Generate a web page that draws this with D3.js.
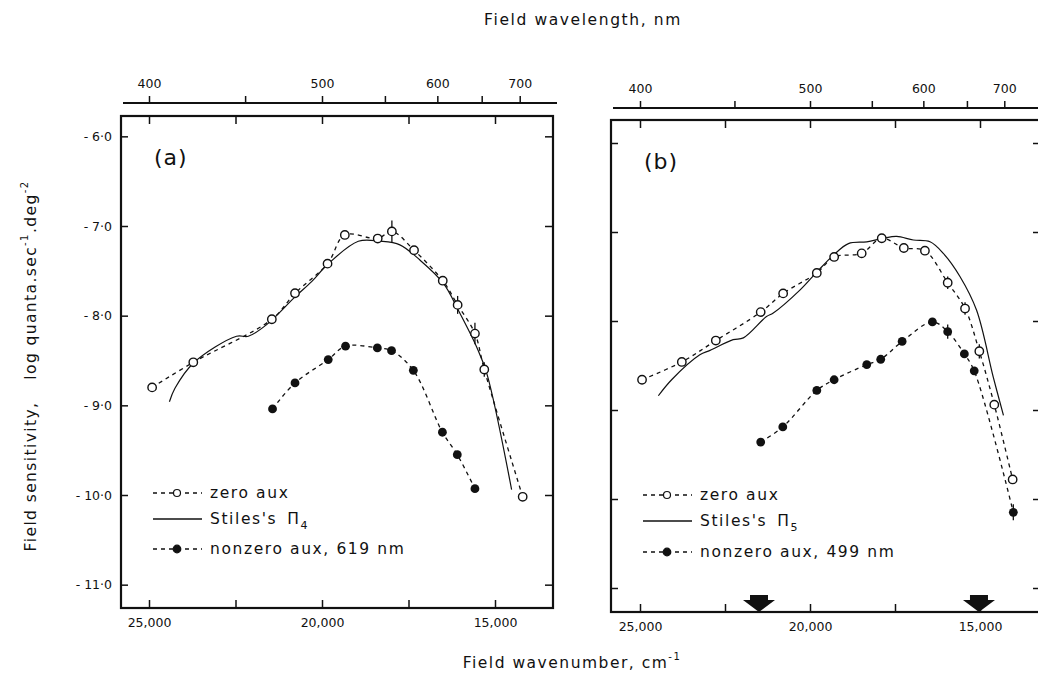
<!DOCTYPE html>
<html>
<head>
<meta charset="utf-8">
<script src="https://cdn.jsdelivr.net/npm/d3@7"></script>
<style>
  body { margin: 0; background: #fff; }
  text { font-family: "DejaVu Sans", sans-serif; fill: #111; }
</style>
</head>
<body>
<svg width="1038" height="675"></svg>
<script>
// ---- data (wavenumber in cm-1, log quanta.sec-1.deg-2) ----
// panel (a)
const zeroA_wn  = [24910, 23720, 21450, 20780, 19840, 19340, 18390, 17980, 17340, 16510, 16080, 15580, 15310, 14200];
const zeroA_val = [-8.80, -8.52, -8.04, -7.75, -7.42, -7.10, -7.14, -7.06, -7.27, -7.61, -7.88, -8.20, -8.60, -10.02];
const zeroA_err = [0, 0, 0, 0, 0, 0, 0, 0.12, 0, 0, 0.1, 0.12, 0.08, 0];

const auxA_wn  = [21430, 20780, 19820, 19320, 18400, 17990, 17360, 16520, 16090, 15580];
const auxA_val = [-9.04, -8.75, -8.49, -8.34, -8.36, -8.39, -8.61, -9.30, -9.55, -9.93];

const stilesA_wn  = [24410, 24250, 23720, 22470, 22130, 21600, 20780, 20300, 19840, 18950, 18320, 17750, 17170, 16490, 16060, 15530, 15240, 14520];
const stilesA_val = [-8.96, -8.81, -8.53, -8.23, -8.23, -8.10, -7.79, -7.62, -7.43, -7.17, -7.17, -7.21, -7.38, -7.64, -7.94, -8.35, -8.64, -9.94];

// panel (b)
const zeroB_wn  = [24940, 23770, 22770, 21450, 20790, 19800, 19290, 18480, 17890, 17240, 16620, 15950, 15440, 15020, 14580, 14040];
const zeroB_val = [-8.66, -8.46, -8.22, -7.90, -7.69, -7.46, -7.28, -7.24, -7.07, -7.18, -7.21, -7.57, -7.86, -8.34, -8.94, -9.78];
const zeroB_err = [0, 0, 0, 0, 0, 0, 0, 0, 0, 0, 0, 0.07, 0.07, 0.08, 0, 0];

const auxB_wn  = [21450, 20800, 19800, 19290, 18330, 17920, 17290, 16400, 15950, 15460, 15170, 14020];
const auxB_val = [-9.36, -9.19, -8.78, -8.66, -8.49, -8.43, -8.23, -8.01, -8.12, -8.37, -8.56, -10.15];
const auxB_err = [0, 0, 0, 0, 0, 0, 0, 0, 0.08, 0, 0, 0.09];

const stilesB_wn  = [24460, 24070, 23240, 22940, 22260, 21960, 21280, 21080, 20290, 19800, 19310, 18870, 18330, 17840, 17450, 16960, 16470, 16080, 15590, 15100, 14610, 14310];
const stilesB_val = [-8.84, -8.66, -8.38, -8.33, -8.21, -8.19, -7.95, -7.91, -7.65, -7.45, -7.26, -7.13, -7.11, -7.07, -7.05, -7.09, -7.11, -7.24, -7.50, -7.88, -8.63, -9.06];

const markerB_wn = [21500, 15030];

// axis ticks
const wnTicks = [25000, 22500, 20000, 17500, 15000];
const nmTicks = [400, 450, 500, 550, 600, 650, 700];
const valTicks = [-6, -7, -8, -9, -10, -11];

const zip = (a, b, e) => a.map((d, i) => ({ wn: d, v: b[i], e: e ? e[i] : 0 }));

const svg = d3.select("svg");

function drawPanel(p) {
  const x = d3.scaleLinear().domain([25000, 15000]).range(p.xr);
  const y = d3.scaleLinear().domain([-7, -10]).range(p.yr);
  const g = svg.append("g");

  // top wavelength axis
  g.append("line")
    .attr("x1", p.left + 2).attr("x2", p.right + 4)
    .attr("y1", p.topAxis).attr("y2", p.topAxis)
    .attr("stroke", "#111").attr("stroke-width", 2);
  const topAx = g.append("g").attr("transform", `translate(0,${p.topAxis})`)
    .call(d3.axisTop(x).tickValues(nmTicks.map(n => 1e7 / n))
      .tickSizeInner(7).tickSizeOuter(0).tickPadding(8)
      .tickFormat(d => { const nm = Math.round(1e7 / d); return nm % 100 === 0 ? nm : ""; }));
  topAx.select(".domain").remove();

  // frame
  g.append("rect")
    .attr("x", p.left).attr("y", p.top)
    .attr("width", p.right - p.left).attr("height", p.bottom - p.top)
    .attr("fill", "none").attr("stroke", "#111").attr("stroke-width", 2.2);

  const fmtWn = d => d % 5000 === 0 ? d3.format(",")(d) : "";
  const bot = g.append("g").attr("transform", `translate(0,${p.bottom})`)
    .call(d3.axisBottom(x).tickValues(wnTicks).tickSizeInner(-8).tickSizeOuter(0).tickPadding(10).tickFormat(fmtWn));
  bot.select(".domain").remove();
  const top = g.append("g").attr("transform", `translate(0,${p.top})`)
    .call(d3.axisTop(x).tickValues(wnTicks).tickSizeInner(-8).tickSizeOuter(0).tickFormat(""));
  top.select(".domain").remove();

  const left = g.append("g").attr("transform", `translate(${p.left},0)`)
    .call(d3.axisLeft(y).tickValues(valTicks).tickSizeInner(-7).tickSizeOuter(0).tickPadding(9)
      .tickFormat(p.yLabels ? (v => "- " + Math.abs(v).toFixed(1).replace(".", "·")) : ""));
  left.select(".domain").remove();
  const right = g.append("g").attr("transform", `translate(${p.right},0)`)
    .call(d3.axisRight(y).tickValues(valTicks).tickSizeInner(-8).tickSizeOuter(0).tickFormat(""));
  right.select(".domain").remove();

  g.selectAll(".tick line").attr("stroke", "#111").attr("stroke-width", 1.5);
  g.selectAll(".tick text").attr("font-size", 12.5).attr("font-family", "DejaVu Sans, sans-serif").attr("fill", "#111");

  // panel letter
  g.append("text").attr("x", p.left + 33).attr("y", p.top + 49)
    .attr("font-size", 22).attr("letter-spacing", 1).text(p.letter);

  const line = d3.line().x(d => x(d.wn)).y(d => y(d.v)).curve(d3.curveCatmullRom);

  // Stiles curve
  g.append("path").datum(p.stiles).attr("d", line)
    .attr("fill", "none").attr("stroke", "#111").attr("stroke-width", 1.2);

  // dashed curves
  [p.zero, p.aux].forEach(s => {
    g.append("path").datum(s).attr("d", line)
      .attr("fill", "none").attr("stroke", "#111").attr("stroke-width", 1.3)
      .attr("stroke-dasharray", "4,4");
  });

  // error bars
  [...p.zero, ...p.aux].filter(d => d.e > 0).forEach(d => {
    g.append("line").attr("x1", x(d.wn)).attr("x2", x(d.wn))
      .attr("y1", y(d.v + d.e)).attr("y2", y(d.v - d.e))
      .attr("stroke", "#111").attr("stroke-width", 1.3);
  });

  g.selectAll(null).data(p.zero).join("circle")
    .attr("cx", d => x(d.wn)).attr("cy", d => y(d.v)).attr("r", 4.2)
    .attr("fill", "#fff").attr("stroke", "#111").attr("stroke-width", 1.4);
  g.selectAll(null).data(p.aux).join("circle")
    .attr("cx", d => x(d.wn)).attr("cy", d => y(d.v)).attr("r", 4.4)
    .attr("fill", "#111");

  // arrow markers on the bottom axis
  (p.markers || []).forEach(wn => {
    const cx = x(wn), b = p.bottom;
    g.append("path")
      .attr("d", `M${cx - 9},${b - 17} h18 v5 h7 l-16,12 l-16,-12 h7 z`)
      .attr("fill", "#111");
  });

  // legend
  const lg = g.append("g");
  p.legend.forEach((row, i) => {
    const ly = p.legY[i], lx = p.legX;
    if (row.kind === "solid") {
      lg.append("line").attr("x1", lx).attr("x2", lx + 49).attr("y1", ly).attr("y2", ly)
        .attr("stroke", "#111").attr("stroke-width", 1.3);
    } else {
      lg.append("line").attr("x1", lx).attr("x2", lx + 49).attr("y1", ly).attr("y2", ly)
        .attr("stroke", "#111").attr("stroke-width", 1.3).attr("stroke-dasharray", "4,4");
      lg.append("circle").attr("cx", lx + 24).attr("cy", ly).attr("r", row.kind === "open" ? 3.5 : 3.8)
        .attr("fill", row.kind === "open" ? "#fff" : "#111")
        .attr("stroke", "#111").attr("stroke-width", 1.2);
    }
    const t = lg.append("text").attr("x", lx + 57).attr("y", ly + 5)
      .attr("font-size", 15.5).attr("letter-spacing", 1.6);
    t.append("tspan").text(row.label);
    if (row.sub) {
      t.append("tspan").attr("dx", 10).text("Π");
      t.append("tspan").attr("font-size", 11).attr("dy", 5).text(row.sub);
    }
  });
}

drawPanel({
  letter: "(a)", left: 121, right: 553, top: 116, bottom: 608, topAxis: 103,
  xr: [149, 495], yr: [226, 495], yLabels: true,
  zero: zip(zeroA_wn, zeroA_val, zeroA_err),
  aux: zip(auxA_wn, auxA_val),
  stiles: zip(stilesA_wn, stilesA_val),
  legX: 153, legY: [493, 519, 549],
  legend: [
    { kind: "open", label: "zero aux" },
    { kind: "solid", label: "Stiles's", sub: "4" },
    { kind: "filled", label: "nonzero aux, 619 nm" }
  ]
});

drawPanel({
  letter: "(b)", left: 611, right: 1041, top: 120, bottom: 612, topAxis: 108,
  xr: [640, 980], yr: [232, 499], yLabels: false,
  zero: zip(zeroB_wn, zeroB_val, zeroB_err),
  aux: zip(auxB_wn, auxB_val, auxB_err),
  stiles: zip(stilesB_wn, stilesB_val),
  markers: markerB_wn,
  legX: 643, legY: [495, 521, 552],
  legend: [
    { kind: "open", label: "zero aux" },
    { kind: "solid", label: "Stiles's", sub: "5" },
    { kind: "filled", label: "nonzero aux, 499 nm" }
  ]
});

// axis titles
svg.append("text").attr("x", 583).attr("y", 25).attr("text-anchor", "middle")
  .attr("font-size", 15.5).attr("letter-spacing", 1.6).text("Field wavelength, nm");

const bt = svg.append("text").attr("x", 572).attr("y", 668).attr("text-anchor", "middle")
  .attr("font-size", 15.5).attr("letter-spacing", 1.5);
bt.append("tspan").text("Field wavenumber, cm");
bt.append("tspan").attr("font-size", 10).attr("dy", -8).text("-1");

const lt = svg.append("text").attr("transform", "translate(36,366) rotate(-90)")
  .attr("text-anchor", "middle").attr("font-size", 15.5).attr("letter-spacing", 1.4);
lt.append("tspan").text("Field sensitivity,");
lt.append("tspan").attr("dx", 22).text("log quanta.sec");
lt.append("tspan").attr("font-size", 10).attr("dy", -8).text("-1");
lt.append("tspan").attr("dy", 8).text(".deg");
lt.append("tspan").attr("font-size", 10).attr("dy", -8).text("-2");
</script>
</body>
</html>
